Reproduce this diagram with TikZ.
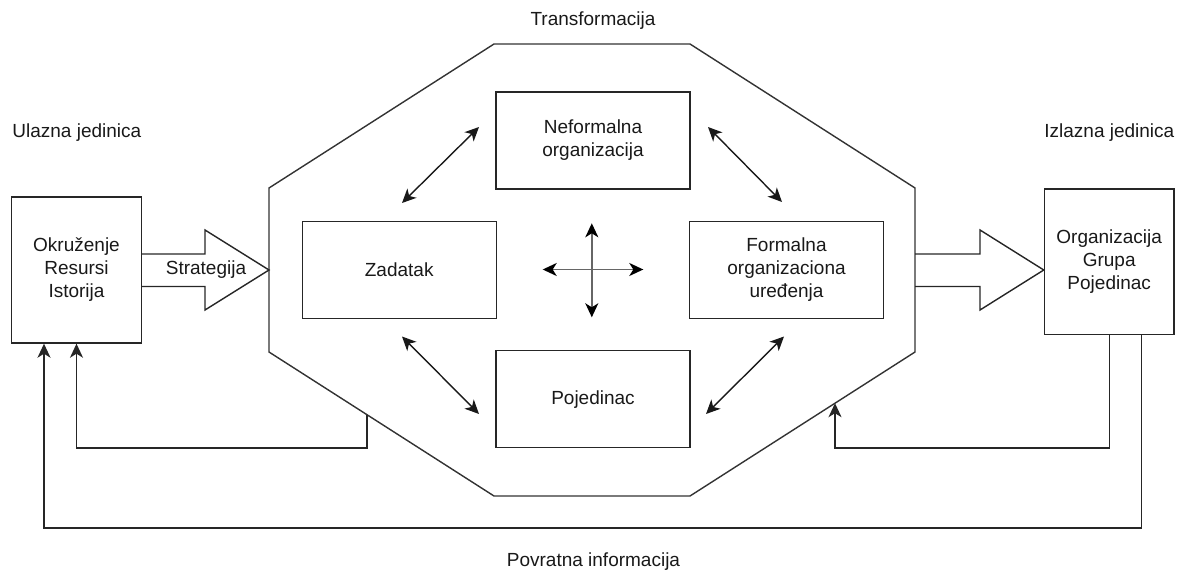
\documentclass[tikz,border=0pt]{standalone}
\usepackage{fontspec}
\setmainfont{Liberation Sans}
\usetikzlibrary{arrows.meta,calc}

\begin{document}
\begin{tikzpicture}[
  x=1pt, y=-1pt,
  line width=1.4pt,
  every node/.style={font=\fontsize{19}{23}\selectfont, text=black!90},
  >={Stealth[length=14pt,width=13pt,inset=4pt]},
  unitbox/.style={draw=black!85, rectangle, inner sep=0pt, align=center,
                  minimum width=129.5pt, minimum height=146pt},
  partbox/.style={draw=black!85, rectangle, inner sep=0pt, align=center,
                  minimum width=194pt, minimum height=97pt},
  link/.style={<->, draw=black!90},
  cross/.style={{Stealth[length=14pt,width=13pt,inset=4pt,color=black]}-{Stealth[length=14pt,width=13pt,inset=4pt,color=black]},
                draw=black!60, line width=1.8pt},
  feedback/.style={->, draw=black!85},
  blockarrow/.style={draw=black!85, line join=miter},
  octagon/.style={draw=black!80, line join=miter},
  caption/.style={inner sep=0pt}
]
\useasboundingbox (0,0) rectangle (1182,572);

% captions
\node[caption, anchor=base west] (inlbl)  at (11.7,138) {Ulazna jedinica};
\node[caption, anchor=base east] (outlbl) at (1175,138) {Izlazna jedinica};
\node[caption, anchor=base] (trlbl) at (593,26) {Transformacija};
\node[caption, anchor=base] (fblbl) at (593.5,566.7) {Povratna informacija};

% the transformation octagon
\coordinate (o1) at (494,44);
\coordinate (o2) at (690,44);
\coordinate (o3) at (915,188);
\coordinate (o4) at (915,352);
\coordinate (o5) at (690,496);
\coordinate (o6) at (494,496);
\coordinate (o7) at (269,352);
\coordinate (o8) at (269,188);
\draw[octagon] (o1) -- (o2) -- (o3) -- (o4) -- (o5) -- (o6) -- (o7) -- (o8) -- cycle;

% input and output units
\node[unitbox] (inp) at (76.5,270) {Okruženje\\Resursi\\Istorija};
\node[unitbox, minimum height=145.5pt] (out) at (1109.2,261.8) {Organizacija\\Grupa\\Pojedinac};

% the four components
\node[partbox] (neform) at (593,140.5) {Neformalna\\organizacija};
\node[partbox] (task)   at (399.2,270) {Zadatak};
\node[partbox] (form)   at (786.5,270) {Formalna\\organizaciona\\uređenja};
\node[partbox] (indiv)  at (593,399.2) {Pojedinac};

% hollow block arrow: strategy into the transformation
\draw[blockarrow] (inp.east |- 0,254) -- (205,254) -- (205,230) -- (o8 |- 0,270)
      -- (205,310) -- (205,286.5) -- (inp.east |- 0,286.5);
\node[caption] (strat) at (206,270) {Strategija};

% hollow block arrow: transformation into the output unit
\draw[blockarrow] (o3 |- 0,254) -- (980,254) -- (980,230) -- (out.west |- 0,270)
      -- (980,310) -- (980,286.5) -- (o3 |- 0,286.5);

% interactions between the components
\coordinate (tlA) at (402,203);  \coordinate (tlB) at (479,127);
\coordinate (trA) at (708,127);  \coordinate (trB) at (782,202);
\coordinate (blA) at (402,336.5);\coordinate (blB) at (479,414);
\coordinate (brA) at (706,414);  \coordinate (brB) at (784,336.5);
\draw[link] (tlA) -- (tlB);
\draw[link] (trA) -- (trB);
\draw[link] (blA) -- (blB);
\draw[link] (brA) -- (brB);

% central cross
\coordinate (cW) at (542.7,269.5); \coordinate (cE) at (643.3,269.5);
\coordinate (cN) at (591.8,223.3); \coordinate (cS) at (591.8,317.3);
\draw[cross] (cW) -- (cE);
\draw[cross] (cN) -- (cS);

% feedback loops
\coordinate (railA) at (0,448);
\coordinate (railB) at (0,528);
\coordinate (fbL) at (367,414.7);
\coordinate (fbR) at (835,403.2);
\draw[feedback] (fbL) -- (fbL |- railA) -| (inp.south);
\draw[feedback] (out.south) -- (out.south |- railA) -| (fbR);
\draw[feedback] ([xshift=32pt]out.south) -- ([xshift=32pt]out.south |- railB)
      -| ([xshift=-32.5pt]inp.south);
\end{tikzpicture}
\end{document}
